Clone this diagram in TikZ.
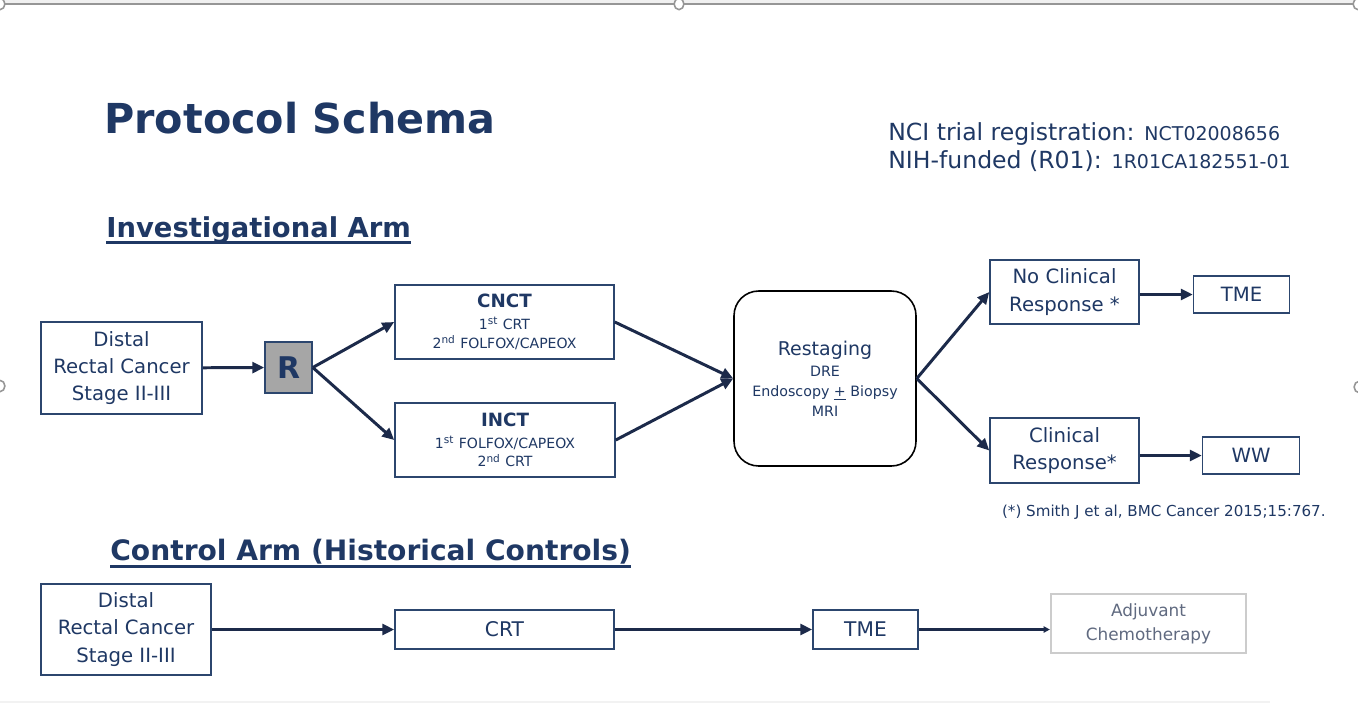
\documentclass[tikz,border=0pt]{standalone}
\usepackage{fontspec}
\setmainfont{DejaVu Sans}
\usetikzlibrary{positioning,arrows.meta}

\definecolor{navy}{RGB}{31,56,100}
\definecolor{arrowcol}{RGB}{28,42,74}
\definecolor{boxline}{RGB}{44,70,110}
\definecolor{rgray}{RGB}{166,166,166}
\definecolor{handle}{RGB}{150,150,150}
\definecolor{fadetext}{RGB}{96,106,128}

\begin{document}
\begin{tikzpicture}[
    x=0.02cm, y=-0.02cm,
    box/.style={draw=boxline, line width=0.9pt, fill=white, align=center, text=navy, inner sep=0pt, font=\fontsize{11.2}{15.6}\selectfont},
    smallbox/.style={box, font=\fontsize{8}{10.8}\selectfont},
    hdr/.style={text=navy, inner sep=0pt, anchor=base west, font=\bfseries\fontsize{15.6}{18}\selectfont},
    reg/.style={text=navy, inner sep=0pt, anchor=base west, font=\fontsize{13.4}{16}\selectfont},
    uline/.style={navy, line width=1.6pt},
    arrow/.style={-{Triangle[length=6.8pt, width=6.2pt]}, line width=1.7pt, arrowcol},
    handlemark/.style={draw=handle, line width=0.9pt, fill=white},
]
\useasboundingbox (0,0) rectangle (1358,704);

% ================== Frame ==================
\fill[gray!12] (0,0) rectangle (1358,3);
\draw[handle, line width=0.9pt] (0,4) -- (1358,4);
\draw[gray!10, line width=1pt] (0,702) -- (1270,702);
\foreach \hx/\hy in {0/4, 679/4, 1358/4, 0/386, 1359/387}
    \draw[handlemark] (\hx,\hy) ellipse (2.8pt and 3.2pt);

% ================== Header ==================
\node[text=navy, inner sep=0pt, anchor=base west, font=\bfseries\fontsize{23.5}{28}\selectfont] (title) at (104,133) {Protocol Schema};
\node[reg] (reg1) at (888,140) {NCI trial registration: {\fontsize{10.8}{12}\selectfont NCT02008656}};
\node[reg] (reg2) at (888,168) {NIH-funded (R01): {\fontsize{10.8}{12}\selectfont 1R01CA182551-01}};

% ================== Investigational arm ==================
\node[hdr] (invTitle) at (106,237) {Investigational Arm};
\draw[uline] ([yshift=-2.9pt]invTitle.base west) -- ([yshift=-2.9pt]invTitle.base east);

\node[box, minimum width=3.22cm, minimum height=1.84cm] (distal) at (121.5,368) {Distal\\Rectal Cancer\\Stage II-III};
\node[box, fill=rgray, minimum width=0.94cm, minimum height=1.02cm, font=\bfseries\fontsize{17}{18}\selectfont] (rand) at (288.5,367.5) {R};
\node[smallbox, minimum width=4.38cm, minimum height=1.48cm] (cnct) at (504.5,322) {{\bfseries\fontsize{10.4}{11}\selectfont CNCT}\\[1.5pt]1\textsuperscript{st} CRT\\2\textsuperscript{nd} FOLFOX/CAPEOX};
\node[smallbox, minimum width=4.4cm, minimum height=1.48cm] (inct) at (505,440) {{\bfseries\fontsize{10.4}{11}\selectfont INCT}\\[1.5pt]1\textsuperscript{st} FOLFOX/CAPEOX\\2\textsuperscript{nd} CRT};
\node[draw=black, line width=0.9pt, rounded corners=14pt, fill=white, minimum width=3.64cm, minimum height=3.5cm, align=center, text=navy, font=\fontsize{8.1}{11.3}\selectfont] (restage) at (825,378.5) {{\fontsize{10.8}{12}\selectfont Restaging}\\[1pt]DRE\\Endoscopy \underline{+} Biopsy\\MRI};
\node[box, minimum width=2.98cm, minimum height=1.28cm] (nocr) at (1064.5,292) {No Clinical\\Response *};
\node[box, minimum width=1.92cm, minimum height=0.74cm, right=1.06cm of nocr, yshift=-0.05cm] (tme1) {TME};
\node[box, minimum width=2.98cm, minimum height=1.3cm] (cr) at (1064.5,450.5) {Clinical\\Response*};
\node[box, minimum width=1.94cm, minimum height=0.74cm, right=1.24cm of cr, yshift=-0.1cm] (ww) {WW};

\draw[arrow] (distal) -- (rand);
\draw[arrow] (rand.east) -- (cnct.west);
\draw[arrow] (rand.east) -- (inct.west);
\draw[arrow] (cnct.east) -- (restage.west);
\draw[arrow] (inct.east) -- (restage.west);
\draw[arrow] (restage.east) -- (nocr.west);
\draw[arrow] (restage.east) -- (cr.west);
\draw[arrow] (nocr.east |- tme1.west) -- (tme1.west);
\draw[arrow] (cr.east |- ww.west) -- (ww.west);

\node[anchor=base east, text=navy, inner sep=0pt, font=\fontsize{8.6}{10}\selectfont] (fnote) at (1326,516) {(*) Smith J et al, BMC Cancer 2015;15:767.};

% ================== Control arm ==================
\node[hdr, font=\bfseries\fontsize{16}{18}\selectfont] (ctlTitle) at (110,560) {Control Arm (Historical Controls)};
\draw[uline] ([yshift=-3.6pt]ctlTitle.base west) -- ([yshift=-3.6pt]ctlTitle.base east);

\node[box, minimum width=3.4cm, minimum height=1.82cm] (distal2) at (126,629.5) {Distal\\Rectal Cancer\\Stage II-III};
\node[box, minimum width=4.38cm, minimum height=0.78cm, font=\fontsize{11.5}{14}\selectfont] (crt) at (504.5,629.5) {CRT};
\node[box, minimum width=2.1cm, minimum height=0.78cm, font=\fontsize{11.5}{14}\selectfont] (tme2) at (865.5,629.5) {TME};
\node[box, draw=gray!40, line width=1.3pt, text=fadetext, minimum width=3.9cm, minimum height=1.18cm, font=\fontsize{9.6}{13.6}\selectfont] (adj) at (1148.5,623.5) {Adjuvant\\Chemotherapy};

\draw[arrow] (distal2) -- (crt);
\draw[arrow] (crt) -- (tme2);
\draw[arrow, -{Triangle[length=3.5pt, width=3.5pt]}] (tme2.east) -- (tme2.east -| adj.west);

\end{tikzpicture}
\end{document}
